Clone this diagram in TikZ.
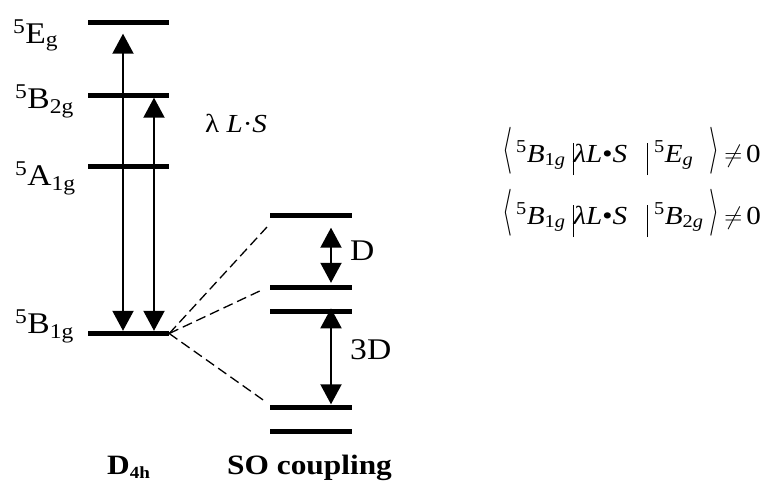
\documentclass[tikz,border=0pt]{standalone}
\usepackage{fontspec}
\setmainfont{Liberation Serif}[FakeStretch=1.12]
\usepackage{graphicx}
\usepackage{tikz}
\usetikzlibrary{arrows.meta,positioning,calc}

\newcommand{\lbrak}{\resizebox*{10pt}{47pt}{$\langle$}}
\newcommand{\rbrak}{\resizebox*{10pt}{47pt}{$\rangle$}}
\newcommand{\vbar}{\rule[-13pt]{1pt}{32pt}}

\begin{document}
\begin{tikzpicture}[
    x=1pt, y=-1pt,
    level/.style={rectangle, fill=black, inner sep=0pt, minimum width=81pt, minimum height=5pt},
    statelbl/.style={anchor=base west, inner sep=0pt, font=\fontsize{30}{34}\selectfont},
    gaplbl/.style={anchor=base west, inner sep=0pt, font=\fontsize{30}{34}\selectfont},
    eqn/.style={anchor=base west, inner sep=0pt, font=\fontsize{26}{30}\selectfont},
    title/.style={anchor=base west, inner sep=0pt, font=\fontsize{28}{32}\selectfont\bfseries},
    dbl/.style={line width=2pt, {Triangle[width=21pt,length=20pt]}-{Triangle[width=21pt,length=20pt]}},
    split/.style={line width=1.3pt, dash pattern=on 10pt off 5pt}
]
\useasboundingbox (0,0) rectangle (777,483);

% D4h levels
\node[level] (eg) at (128.5,22.5) {};
\node[level] (btwo) at (128.5,95) {};
\node[level] (aone) at (128.5,166.5) {};
\node[level] (bone) at (128.5,333.5) {};

\node[statelbl] (eglbl) at (13,43) {\textsuperscript{5}E\textsubscript{g}};
\node[statelbl] (btwolbl) at (15,108) {\textsuperscript{5}B\textsubscript{2g}};
\node[statelbl] (aonelbl) at (15,185) {\textsuperscript{5}A\textsubscript{1g}};
\node[statelbl] (bonelbl) at (15,333) {\textsuperscript{5}B\textsubscript{1g}};

% SO coupling levels
\node[level, minimum width=82pt] (soa) at (311,215) {};
\node[level, minimum width=82pt] (sob) at (311,287) {};
\node[level, minimum width=82pt] (soc) at (311,311) {};
\node[level, minimum width=82pt] (sod) at (311,407) {};
\node[level, minimum width=82pt] (soe) at (311,431) {};

% Mixing by spin-orbit
\draw[dbl, shorten >=8.5pt] ([xshift=-5.5pt]bone.north) -- ([xshift=-5.5pt]eg.south);
\draw[dbl] ([xshift=25.5pt]bone.north) -- ([xshift=25.5pt]btwo.south);
\node[eqn] (lsop) at (205,132) {λ \textit{L}·\textit{S}};

% Splitting of 5B1g
\coordinate (spa) at (267,227);
\coordinate (spb) at (264,289);
\coordinate (spc) at (266,402);
\draw[split] (bone.east) -- (spa);
\draw[split] (bone.east) -- (spb);
\draw[split] (bone.east) -- (spc);

\draw[dbl, shorten <=10pt, shorten >=1.5pt] ([xshift=20pt]soa.south) -- ([xshift=20pt]sob.north);
\draw[dbl] ([xshift=20pt]soc.north) -- ([xshift=20pt]sod.north);
\node[gaplbl] (dlbl) at (350,260) {D};
\node[gaplbl] (tdlbl) at (350,359) {3D};

% Titles
\node[title] (dfour) at (107,474) {D{\fontsize{17}{17}\selectfont\raisebox{-4pt}{4h}}};
\node[title] (socoup) at (227,474) {SO coupling};

% Matrix elements
\node[eqn] (mateg) at (502,162) {\lbrak\hspace{4pt}\textsuperscript{5}\textit{B}\textsubscript{1\textit{g}}\hspace{7pt}\vbar\textit{λL}•\textit{S}\hspace{20pt}\vbar\hspace{6pt}\textsuperscript{5}\textit{E}\textsubscript{\textit{g}}\hspace{16pt}\rbrak\hspace{5pt}$\neq$\hspace{4pt}0};
\node[eqn] (matbtwo) at (502,224) {\lbrak\hspace{4pt}\textsuperscript{5}\textit{B}\textsubscript{1\textit{g}}\hspace{7pt}\vbar\textit{λL}•\textit{S}\hspace{20pt}\vbar\hspace{6pt}\textsuperscript{5}\textit{B}\textsubscript{2\textit{g}}\hspace{6pt}\rbrak\hspace{5pt}$\neq$\hspace{4pt}0};

\end{tikzpicture}
\end{document}
